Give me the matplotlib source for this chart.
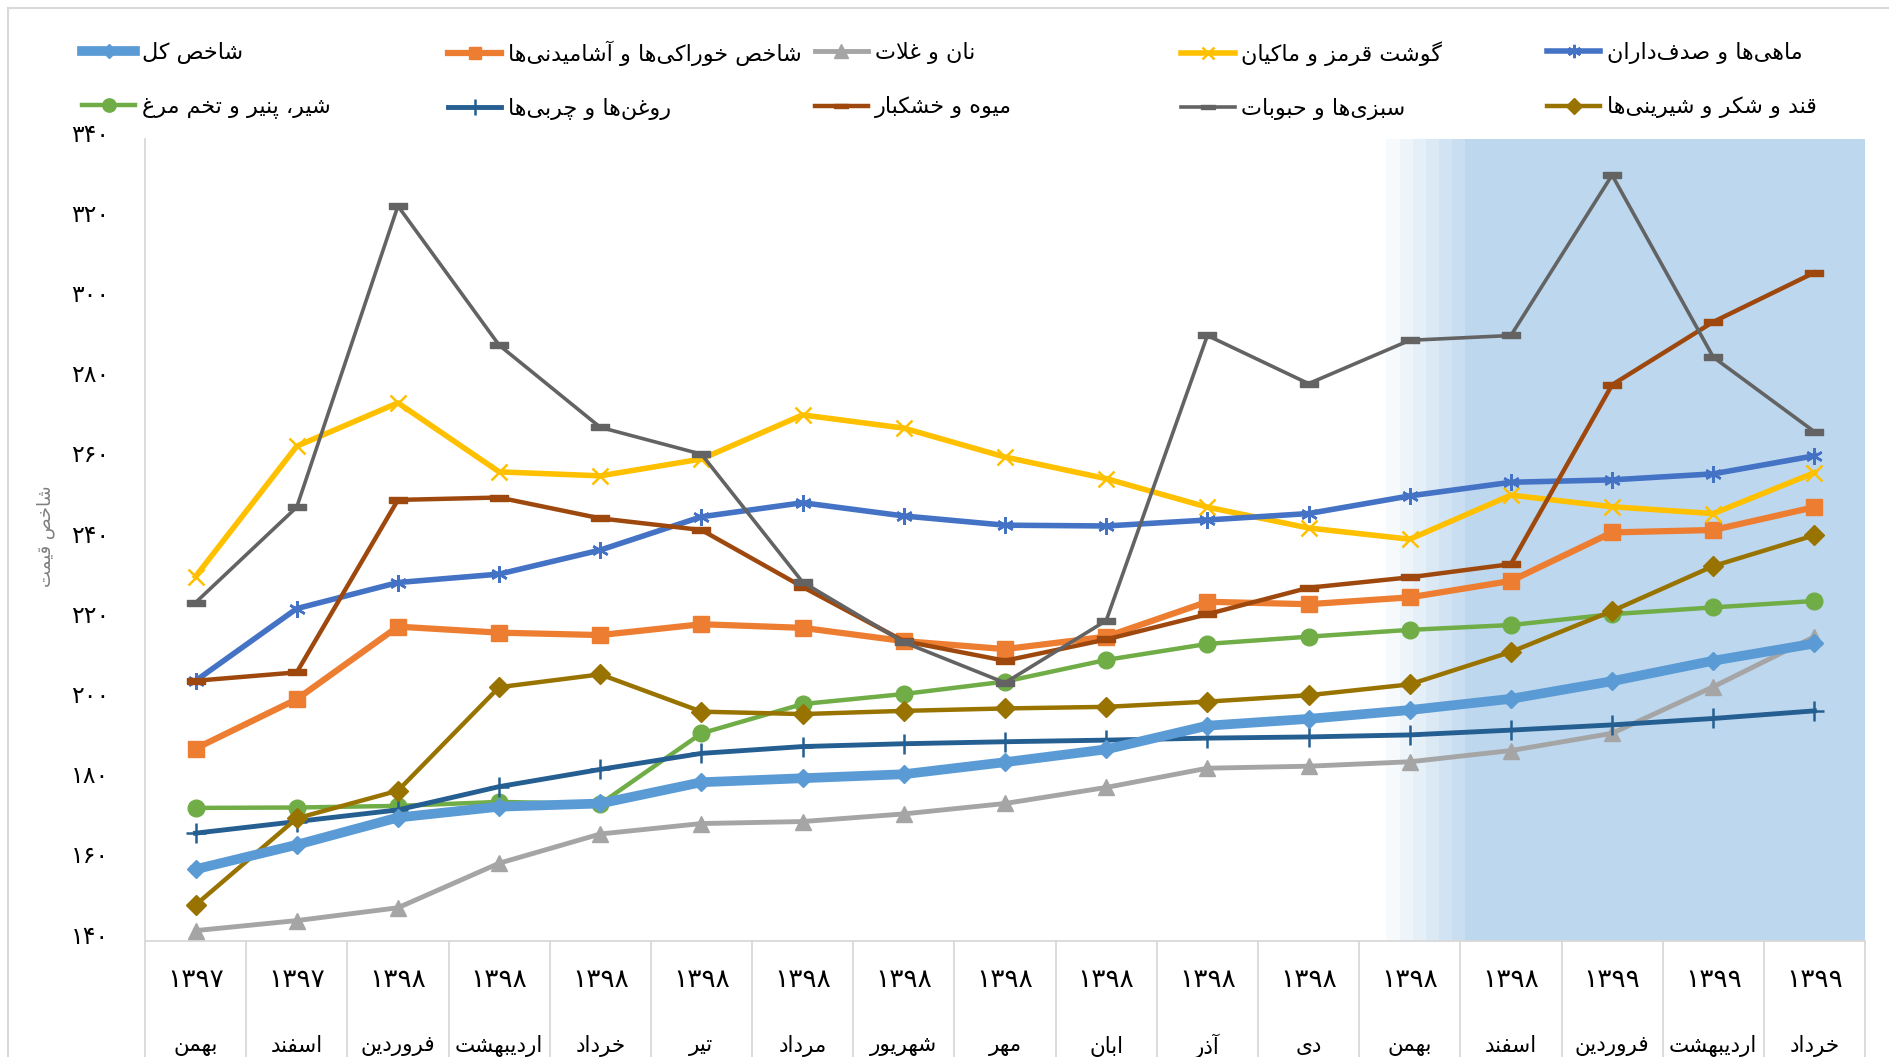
import matplotlib
matplotlib.use('Agg')
import matplotlib.pyplot as plt
from matplotlib.lines import Line2D
from matplotlib.transforms import blended_transform_factory, ScaledTranslation

plt.rcParams['font.family'] = 'DejaVu Sans'

# ---- persian text helper (no arabic_reshaper available) ----
FORMS = {
    '\u0627': ('\uFE8D', '\uFE8E', None, None),       # alef
    '\u0622': ('\uFE81', '\uFE82', None, None),       # alef madda
    '\u0628': ('\uFE8F', '\uFE90', '\uFE91', '\uFE92'),
    '\u067E': ('\uFB56', '\uFB57', '\uFB58', '\uFB59'),
    '\u062A': ('\uFE95', '\uFE96', '\uFE97', '\uFE98'),
    '\u062B': ('\uFE99', '\uFE9A', '\uFE9B', '\uFE9C'),
    '\u062C': ('\uFE9D', '\uFE9E', '\uFE9F', '\uFEA0'),
    '\u0686': ('\uFB7A', '\uFB7B', '\uFB7C', '\uFB7D'),
    '\u062D': ('\uFEA1', '\uFEA2', '\uFEA3', '\uFEA4'),
    '\u062E': ('\uFEA5', '\uFEA6', '\uFEA7', '\uFEA8'),
    '\u062F': ('\uFEA9', '\uFEAA', None, None),
    '\u0630': ('\uFEAB', '\uFEAC', None, None),
    '\u0631': ('\uFEAD', '\uFEAE', None, None),
    '\u0632': ('\uFEAF', '\uFEB0', None, None),
    '\u0698': ('\uFB8A', '\uFB8B', None, None),
    '\u0633': ('\uFEB1', '\uFEB2', '\uFEB3', '\uFEB4'),
    '\u0634': ('\uFEB5', '\uFEB6', '\uFEB7', '\uFEB8'),
    '\u0635': ('\uFEB9', '\uFEBA', '\uFEBB', '\uFEBC'),
    '\u0636': ('\uFEBD', '\uFEBE', '\uFEBF', '\uFEC0'),
    '\u0637': ('\uFEC1', '\uFEC2', '\uFEC3', '\uFEC4'),
    '\u0638': ('\uFEC5', '\uFEC6', '\uFEC7', '\uFEC8'),
    '\u0639': ('\uFEC9', '\uFECA', '\uFECB', '\uFECC'),
    '\u063A': ('\uFECD', '\uFECE', '\uFECF', '\uFED0'),
    '\u0641': ('\uFED1', '\uFED2', '\uFED3', '\uFED4'),
    '\u0642': ('\uFED5', '\uFED6', '\uFED7', '\uFED8'),
    '\u06A9': ('\uFB8E', '\uFB8F', '\uFB90', '\uFB91'),
    '\u06AF': ('\uFB92', '\uFB93', '\uFB94', '\uFB95'),
    '\u0644': ('\uFEDD', '\uFEDE', '\uFEDF', '\uFEE0'),
    '\u0645': ('\uFEE1', '\uFEE2', '\uFEE3', '\uFEE4'),
    '\u0646': ('\uFEE5', '\uFEE6', '\uFEE7', '\uFEE8'),
    '\u0648': ('\uFEED', '\uFEEE', None, None),
    '\u0647': ('\uFEE9', '\uFEEA', '\uFEEB', '\uFEEC'),
    '\u06CC': ('\uFBFC', '\uFBFD', '\uFBFE', '\uFBFF'),
    '\uFEFB': ('\uFEFB', '\uFEFC', None, None),       # lam-alef
    '\uFEF5': ('\uFEF5', '\uFEF6', None, None),       # lam-alef madda
}


def fa(text):
    """Shape persian letters and reverse them for left-to-right drawing."""
    text = text.replace('\u0644\u0627', '\uFEFB').replace('\u0644\u0622', '\uFEF5')
    out = []
    for i, c in enumerate(text):
        f = FORMS.get(c)
        if f is None:
            if c != '\u200c':
                out.append(c)
            continue
        prev = text[i - 1] if i > 0 else ''
        nxt = text[i + 1] if i < len(text) - 1 else ''
        join_prev = prev in FORMS and FORMS[prev][2] is not None
        join_next = nxt in FORMS and f[2] is not None
        if join_prev and join_next:
            out.append(f[3])
        elif join_prev:
            out.append(f[1])
        elif join_next:
            out.append(f[2])
        else:
            out.append(f[0])
    return ''.join(reversed(out))


def fa_num(n):
    return str(n).translate(str.maketrans('0123456789', '۰۱۲۳۴۵۶۷۸۹'))


# ---- data ----
years = ['۱۳۹۷', '۱۳۹۷', '۱۳۹۸', '۱۳۹۸', '۱۳۹۸', '۱۳۹۸', '۱۳۹۸', '۱۳۹۸', '۱۳۹۸',
         '۱۳۹۸', '۱۳۹۸', '۱۳۹۸', '۱۳۹۸', '۱۳۹۸', '۱۳۹۹', '۱۳۹۹', '۱۳۹۹']
months = ['بهمن', 'اسفند', 'فروردین', 'اردیبهشت', 'خرداد', 'تیر', 'مرداد', 'شهریور', 'مهر',
          'ابان', 'آذر', 'دی', 'بهمن', 'اسفند', 'فروردین', 'اردیبهشت', 'خرداد']

total = [157.9, 164.0, 170.8, 173.5, 174.3, 179.6, 180.6, 181.6, 184.6, 187.8, 193.7, 195.4,
         197.6, 200.4, 204.8, 209.9, 214.2]
food = [188.0, 200.3, 218.4, 216.9, 216.3, 219.0, 218.1, 214.8, 212.8, 215.9, 224.6, 224.0,
        225.7, 229.8, 241.9, 242.5, 248.2]
bread = [142.6, 145.1, 148.3, 159.4, 166.7, 169.3, 169.8, 171.7, 174.3, 178.3, 183.1, 183.6,
         184.7, 187.5, 191.8, 203.4, 215.9]
meat = [230.9, 263.4, 274.2, 257.0, 256.0, 260.2, 271.2, 267.9, 260.7, 255.3, 248.2, 243.0,
        240.2, 251.2, 248.3, 246.6, 256.8]
fish = [204.9, 222.9, 229.4, 231.5, 237.5, 245.8, 249.3, 246.0, 243.7, 243.5, 245.0, 246.6,
        251.0, 254.4, 255.0, 256.5, 261.0]
dairy = [173.2, 173.3, 173.7, 174.7, 174.2, 191.8, 199.1, 201.6, 204.7, 210.1, 214.1, 215.9,
         217.6, 218.8, 221.5, 223.2, 224.8]
oils = [166.9, 169.8, 172.7, 178.5, 182.8, 186.8, 188.5, 189.2, 189.7, 190.1, 190.6, 190.9,
        191.4, 192.6, 193.9, 195.5, 197.4]
fruit = [204.9, 207.0, 250.0, 250.6, 245.4, 242.5, 228.3, 214.8, 209.9, 215.2, 221.5, 228.1,
         230.7, 234.0, 278.7, 294.4, 306.7]
veg = [224.4, 248.2, 323.3, 288.6, 268.1, 261.4, 229.5, 214.5, 204.4, 219.9, 291.0, 279.0,
       289.8, 291.0, 331.0, 285.6, 267.0]
sugar = [149.0, 170.6, 177.5, 203.3, 206.5, 197.2, 196.6, 197.4, 198.0, 198.4, 199.7, 201.3,
         204.0, 212.1, 222.3, 233.5, 241.2]

names = ['شاخص کل', 'شاخص خوراکی\u200cها و آشامیدنی\u200cها', 'نان و غلات', 'گوشت قرمز و ماکیان',
         'ماهی\u200cها و صدف\u200cداران', 'شیر، پنیر و تخم مرغ', 'روغن\u200cها و چربی\u200cها',
         'میوه و خشکبار', 'سبزی\u200cها و حبوبات', 'قند و شکر و شیرینی\u200cها']
series = [total, food, bread, meat, fish, dairy, oils, fruit, veg, sugar]

y_ticks = [140, 160, 180, 200, 220, 240, 260, 280, 300, 320, 340]
y_title = 'شاخص قیمت'

# shaded (forecast) region, in category units
shade_fade_start = 11.77
shade_solid_start = 12.55
shade_end = 16.5

# ---- styles ----
dash = [(-1, -0.28), (1, -0.28), (1, 0.28), (-1, 0.28), (-1, -0.28)]
styles = [
    dict(color='#5B9BD5', lw=7, marker='D', ms=9, zorder=5),
    dict(color='#ED7D31', lw=4.5, marker='s', ms=11, zorder=4),
    dict(color='#A5A5A5', lw=3.5, marker='^', ms=12, zorder=4),
    dict(color='#FFC000', lw=4, marker='x', ms=11, mew=1.8, zorder=4),
    dict(color='#4472C4', lw=4, marker=(6, 2, 0), ms=12, mew=1.8, zorder=4),
    dict(color='#70AD47', lw=3.2, marker='o', ms=12, zorder=4),
    dict(color='#255E91', lw=3.5, marker='+', ms=14, mew=1.8, zorder=4),
    dict(color='#9E480E', lw=3.2, marker=dash, ms=13, zorder=4),
    dict(color='#636363', lw=2.6, marker=dash, ms=13, zorder=4),
    dict(color='#997300', lw=3.2, marker='D', ms=10, zorder=4),
]

fig = plt.figure(figsize=(18.9, 10.57), dpi=100)
ax = fig.add_axes([0.0767, 0.1097, 0.9101, 0.7588])

x = list(range(len(months)))

# shaded region with a soft left edge
shade_color = '#BDD7EE'
n_steps = 6
step = (shade_solid_start - shade_fade_start) / n_steps
for k in range(n_steps):
    ax.axvspan(shade_fade_start + k * step, shade_fade_start + (k + 1) * step,
               color=shade_color, alpha=0.12 + 0.14 * k, lw=0, zorder=0)
ax.axvspan(shade_solid_start, shade_end, color=shade_color, lw=0, zorder=0)

lines = []
for vals, st in zip(series, styles):
    ln, = ax.plot(x, vals, solid_joinstyle='round', **st)
    lines.append(ln)

ax.set_xlim(-0.5, 16.5)
ax.set_ylim(140, 340)
ax.set_yticks(y_ticks)
ax.set_yticklabels([fa_num(t) for t in y_ticks], fontsize=17)
ax.tick_params(axis='y', length=0, pad=26)
# labels sit a little above their values, as in the original
lift = ScaledTranslation(0, 5 / 72, fig.dpi_scale_trans)
for lab in ax.get_yticklabels():
    lab.set_transform(lab.get_transform() + lift)
ax.set_xticks([])
for side in ['top', 'right']:
    ax.spines[side].set_visible(False)
for side in ['left', 'bottom']:
    ax.spines[side].set_color('#D9D9D9')
    ax.spines[side].set_linewidth(1.3)

# category table under the axis
trans = blended_transform_factory(ax.transData, ax.transAxes)
for k in range(len(months) + 1):
    ax.plot([k - 0.5, k - 0.5], [0, -0.16], transform=trans, color='#D9D9D9',
            lw=1.3, clip_on=False)
for i in x:
    ax.text(i, -0.049, years[i], transform=trans, ha='center', va='center', fontsize=19)
    ax.text(i, -0.131, fa(months[i]), transform=trans, ha='center', va='center', fontsize=15.5)

fig.text(0.024, 0.493, fa(y_title), rotation=90, ha='center', va='center',
         fontsize=13, color='#7F7F7F')

# legend: five columns of two entries
col_x = [0.0434, 0.237, 0.431, 0.625, 0.8185]
for j, cx in enumerate(col_x):
    fig.legend([lines[j], lines[j + 5]], [fa(names[j]), fa(names[j + 5])],
               loc='center left', bbox_to_anchor=(cx, 0.924), frameon=False,
               fontsize=16, handlelength=2.4, handletextpad=0.3, labelspacing=1.45,
               borderpad=0, borderaxespad=0, numpoints=1, markerscale=0.8)

# outer frame
fig.add_artist(Line2D([0.004, 1.0], [0.992, 0.992], color='#D9D9D9', lw=1.5))
fig.add_artist(Line2D([0.004, 0.004], [0.0, 0.992], color='#D9D9D9', lw=1.5))

fig.savefig('out.png', dpi=100)
